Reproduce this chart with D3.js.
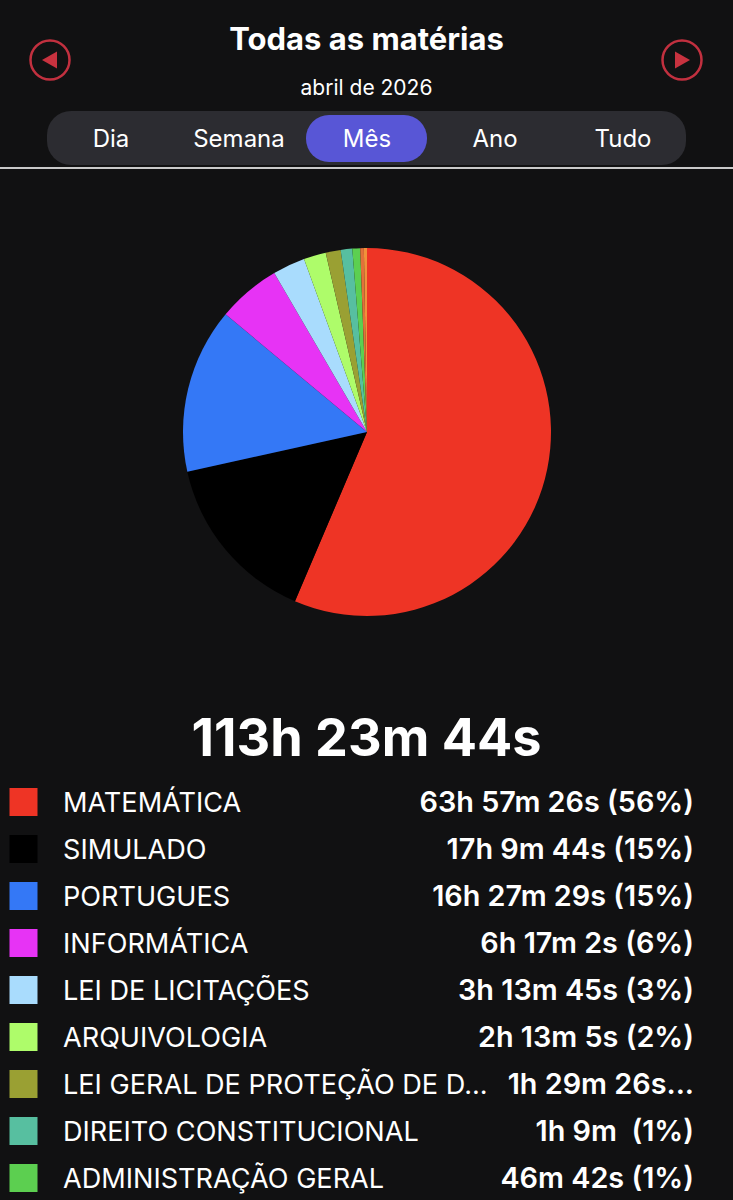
<!DOCTYPE html>
<html><head><meta charset="utf-8">
<script src="https://d3js.org/d3.v7.min.js"></script>
<style>
html,body{margin:0;padding:0;background:#111112;overflow:hidden}
svg{display:block}
text{font-family:Inter,Roboto,sans-serif;fill:#fff}
</style></head><body><svg id="c" width="733" height="1200"></svg>
<script>
const subjects=["MATEMÁTICA","SIMULADO","PORTUGUES","INFORMÁTICA","LEI DE LICITAÇÕES","ARQUIVOLOGIA","LEI GERAL DE PROTEÇÃO DE D...","DIREITO CONSTITUCIONAL","ADMINISTRAÇÃO GERAL","OUTRA A","OUTRA B"];
const seconds=[230246,61784,59249,22622,11625,7985,5366,4140,2802,1300,1105];
const colors=["#ee3425","#000000","#3478f6","#e733f5","#a9dcfd","#aefc6a","#9aa033","#57bfa0","#5ccf50","#e2703a","#f0923a"];
const durations=["63h 57m 26s (56%)","17h 9m 44s (15%)","16h 27m 29s (15%)","6h 17m 2s (6%)","3h 13m 45s (3%)","2h 13m 5s (2%)","1h 29m 26s...","1h 9m  (1%)","46m 42s (1%)"];
const tabs=["Dia","Semana","Mês","Ano","Tudo"];
const total="113h 23m 44s",title="Todas as matérias",subtitle="abril de 2026";

const svg=d3.select("#c");
// Header
svg.append("text").attr("x",366.5).attr("y",50).attr("text-anchor","middle").attr("font-size",31).attr("font-weight",700).text(title);
svg.append("text").attr("x",366.5).attr("y",95).attr("text-anchor","middle").attr("font-size",21).attr("font-weight",400).text(subtitle);
[[50,-1],[682,1]].forEach(([cx,d])=>{
  svg.append("ellipse").attr("cx",cx).attr("cy",60).attr("rx",19.5).attr("ry",19.5).attr("fill","none").attr("stroke","#c2303f").attr("stroke-width",2.5);
  svg.append("path").attr("transform",`translate(${cx},60) scale(${d},1)`).attr("d","M8,0L-7,-8.5L-7,8.5Z").attr("fill","#c8323f");
});
// Segmented control
svg.append("rect").attr("x",47).attr("y",111).attr("width",639).attr("height",54).attr("rx",24).attr("fill","#2c2c31");
svg.append("rect").attr("x",306).attr("y",115).attr("width",121).attr("height",47).attr("rx",23).attr("fill","#5856d6");
const tabX=d3.scalePoint().domain(tabs).range([111,623]);
svg.selectAll(".tab").data(tabs).join("text").attr("class","tab")
  .attr("x",d=>tabX(d)).attr("y",147).attr("text-anchor","middle").attr("font-size",24).text(d=>d);
svg.append("rect").attr("x",0).attr("y",167).attr("width",733).attr("height",2).attr("fill","#c9c9c9");
// Pie
const pie=d3.pie().sort(null).value(d=>d)(seconds);
const arc=d3.arc().innerRadius(0).outerRadius(184);
svg.append("g").attr("transform","translate(367,432)").selectAll("path").data(pie).join("path")
  .attr("d",arc).attr("fill",(d,i)=>colors[i]);
// Total
svg.append("text").attr("x",366.5).attr("y",756).attr("text-anchor","middle").attr("font-size",52.2).attr("font-weight",700).text(total);
// Legend
const y=d3.scalePoint().domain(d3.range(durations.length)).range([802,1178]);
const rows=svg.selectAll(".row").data(durations).join("g").attr("class","row").attr("transform",(d,i)=>`translate(0,${y(i)})`);
rows.append("rect").attr("x",9.5).attr("y",-14).attr("width",28).attr("height",28).attr("fill",(d,i)=>colors[i]);
rows.append("text").attr("x",63).attr("y",10).attr("font-size",27.1).text((d,i)=>subjects[i]);
rows.append("text").attr("x",694).attr("y",10).attr("text-anchor","end").attr("font-size",28.8).attr("font-weight",600).attr("xml:space","preserve").text(d=>d);
</script></body></html>
